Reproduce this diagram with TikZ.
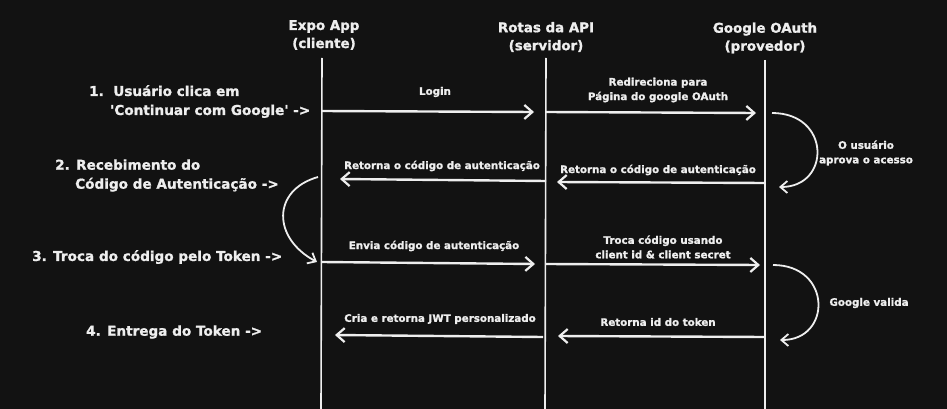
\documentclass[tikz,border=0pt]{standalone}
\usepackage{fontspec}
\setmainfont{DejaVu Sans}[FakeBold=1.2]
\usetikzlibrary{arrows.meta}
\definecolor{bg}{HTML}{121212}
\definecolor{ink}{HTML}{EEEEEE}
\tikzset{
  lifeline/.style={draw=ink, line width=1.6pt},
  msg/.style={draw=ink, line width=2.4pt, -{Straight Barb[length=8pt,width=14pt,line width=2.2pt]}},
  loop/.style={draw=ink, line width=1.8pt, -{Straight Barb[length=7pt,width=12pt,line width=1.8pt]}},
  head/.style={text=ink, font=\bfseries\fontsize{13.4}{18}\selectfont, align=center, inner sep=0pt},
  lbl/.style={text=ink, font=\bfseries\fontsize{10.3}{14.5}\selectfont, align=center, inner sep=0pt},
  side/.style={text=ink, font=\bfseries\fontsize{13.6}{19}\selectfont, align=left, inner sep=0pt, anchor=west},
}
\begin{document}
\begin{tikzpicture}[x=1pt,y=-1pt]
\fill[bg] (0,0) rectangle (947,409);
\useasboundingbox (0,0) rectangle (947,409);

% headers
\node[head] (hexpo) at (324,35) {Expo App\\(cliente)};
\node[head] (hapi) at (546,37) {Rotas da API\\(servidor)};
\node[head] (hgoo) at (765,38) {Google OAuth\\(provedor)};

% lifelines
\coordinate (e0) at (322,58); \coordinate (e1) at (321,409);
\coordinate (a0) at (546,58); \coordinate (a1) at (545,409);
\coordinate (g0) at (765,60); \coordinate (g1) at (765,409);
\draw[lifeline] (e0) -- (e1);
\draw[lifeline] (a0) -- (a1);
\draw[lifeline] (g0) -- (g1);

% step 1
\coordinate (m1s) at (322,111); \coordinate (m1e) at (534,112);
\draw[msg] (m1s) -- (m1e);
\node[lbl] (l1) at (435,92) {Login};
\coordinate (m2s) at (546,112); \coordinate (m2e) at (756,113);
\draw[msg] (m2s) -- (m2e);
\node[lbl] (l2) at (658,90) {Redireciona para\\Página do google OAuth};

% loop 1
\coordinate (c1s) at (772,113); \coordinate (c1e) at (779,187);
\draw[loop] (c1s) .. controls (831,113) and (831,187) .. (c1e);
\node[lbl] (l3) at (866,153) {O usuário\\aprova o acesso};

% step 2
\coordinate (m3s) at (765,183); \coordinate (m3e) at (557,182);
\draw[msg] (m3s) -- (m3e);
\node[lbl] (l4) at (658,170) {Retorna o código de autenticação};
\coordinate (m4s) at (546,181); \coordinate (m4e) at (340,179);
\draw[msg] (m4s) -- (m4e);
\node[lbl] (l5) at (442,166) {Retorna o código de autenticação};

% left loop
\coordinate (c2s) at (318,177); \coordinate (c2e) at (317,262);
\draw[loop] (c2s) .. controls (272,190) and (272,238) .. (c2e);

% step 3
\coordinate (m5s) at (322,262); \coordinate (m5e) at (535,264);
\draw[msg] (m5s) -- (m5e);
\node[lbl] (l6) at (434,246) {Envia código de autenticação};
\coordinate (m6s) at (546,264); \coordinate (m6e) at (760,265);
\draw[msg] (m6s) -- (m6e);
\node[lbl] (l7) at (663,247) {Troca código usando\\client id \& client secret};

% loop 2
\coordinate (c3s) at (773,265); \coordinate (c3e) at (780,340);
\draw[loop] (c3s) .. controls (832,265) and (832,340) .. (c3e);
\node[lbl] (l8) at (869,303) {Google valida};

% step 4
\coordinate (m7s) at (765,337); \coordinate (m7e) at (558,336);
\draw[msg] (m7s) -- (m7e);
\node[lbl] (l9) at (658,322) {Retorna id do token};
\coordinate (m8s) at (543,337); \coordinate (m8e) at (335,335);
\draw[msg] (m8s) -- (m8e);
\node[lbl] (l10) at (440,319) {Cria e retorna JWT personalizado};

% side labels
\node[side] (s1) at (89,101.5) {1.\ \ Usuário clica em\\\hspace*{21pt}\textquotesingle Continuar com Google\textquotesingle\ ->};
\node[side] (s2) at (55,175.5) {2. Recebimento do\\\hspace*{20pt}Código de Autenticação ->};
\node[side] (s3) at (32,257) {3. Troca do código pelo Token ->};
\node[side] (s4) at (86,332) {4. Entrega do Token ->};
\end{tikzpicture}
\end{document}
